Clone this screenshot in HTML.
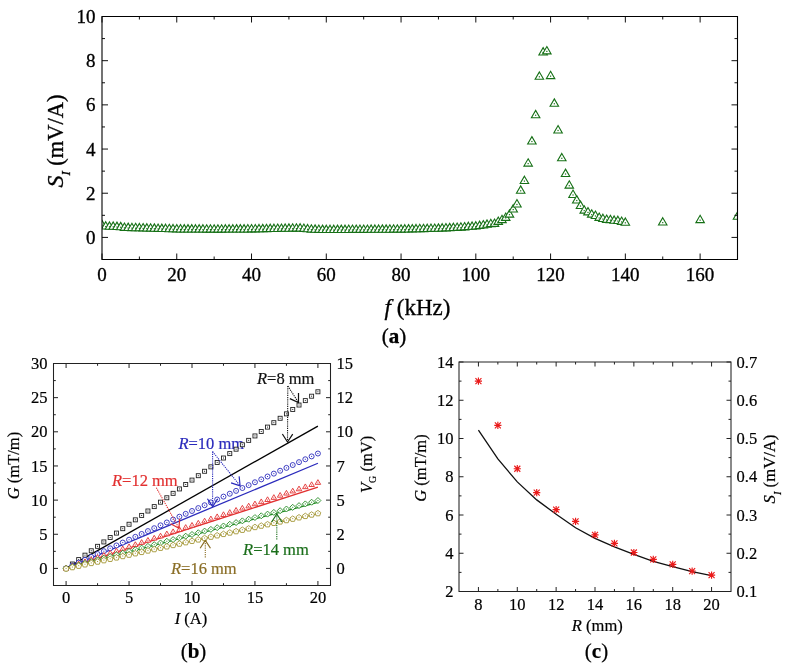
<!DOCTYPE html>
<html><head><meta charset="utf-8"><title>Figure</title>
<style>
html,body{margin:0;padding:0;background:#fff;}
body{width:791px;height:667px;overflow:hidden;}
svg{display:block;-webkit-font-smoothing:antialiased;will-change:transform;}
text{stroke:#000;stroke-width:0.2px;}
.big text{stroke-width:0.32px;}
</style></head><body>
<svg width="791" height="667" viewBox="0 0 791 667">
<rect width="791" height="667" fill="#fff"/>
<g font-family='"Liberation Serif", serif'>
<g class="big">
<defs><clipPath id="ca"><rect x="102" y="16.5" width="636" height="243"/></clipPath>
<symbol id="tri" overflow="visible"><path d="M0,-4.9 L4.25,2.45 L-4.25,2.45 Z" fill="#fff" stroke="#167016" stroke-width="1.1"/><rect x="-0.6" y="-0.6" width="1.2" height="1.2" fill="#167016"/></symbol></defs>
<g clip-path="url(#ca)">
<use href="#tri" x="102" y="225.26"/>
<use href="#tri" x="105.74" y="226.58"/>
<use href="#tri" x="109.48" y="226.81"/>
<use href="#tri" x="113.21" y="226.81"/>
<use href="#tri" x="116.95" y="227.03"/>
<use href="#tri" x="120.69" y="227.25"/>
<use href="#tri" x="124.43" y="227.91"/>
<use href="#tri" x="128.17" y="228.02"/>
<use href="#tri" x="131.91" y="228.13"/>
<use href="#tri" x="135.64" y="228.24"/>
<use href="#tri" x="139.38" y="228.35"/>
<use href="#tri" x="143.12" y="228.46"/>
<use href="#tri" x="146.86" y="228.57"/>
<use href="#tri" x="150.6" y="228.68"/>
<use href="#tri" x="154.34" y="228.79"/>
<use href="#tri" x="158.07" y="228.9"/>
<use href="#tri" x="161.81" y="229.01"/>
<use href="#tri" x="165.55" y="229.12"/>
<use href="#tri" x="169.29" y="229.24"/>
<use href="#tri" x="173.03" y="229.35"/>
<use href="#tri" x="176.76" y="229.46"/>
<use href="#tri" x="180.5" y="229.48"/>
<use href="#tri" x="184.24" y="229.5"/>
<use href="#tri" x="187.98" y="229.52"/>
<use href="#tri" x="191.72" y="229.54"/>
<use href="#tri" x="195.46" y="229.57"/>
<use href="#tri" x="199.19" y="229.59"/>
<use href="#tri" x="202.93" y="229.61"/>
<use href="#tri" x="206.67" y="229.63"/>
<use href="#tri" x="210.41" y="229.66"/>
<use href="#tri" x="214.15" y="229.68"/>
<use href="#tri" x="217.89" y="229.66"/>
<use href="#tri" x="221.62" y="229.63"/>
<use href="#tri" x="225.36" y="229.61"/>
<use href="#tri" x="229.1" y="229.59"/>
<use href="#tri" x="232.84" y="229.57"/>
<use href="#tri" x="236.58" y="229.54"/>
<use href="#tri" x="240.31" y="229.52"/>
<use href="#tri" x="244.05" y="229.5"/>
<use href="#tri" x="247.79" y="229.48"/>
<use href="#tri" x="251.53" y="229.46"/>
<use href="#tri" x="255.27" y="229.39"/>
<use href="#tri" x="259.01" y="229.32"/>
<use href="#tri" x="262.74" y="229.26"/>
<use href="#tri" x="266.48" y="229.19"/>
<use href="#tri" x="270.22" y="229.12"/>
<use href="#tri" x="273.96" y="229.06"/>
<use href="#tri" x="277.7" y="228.99"/>
<use href="#tri" x="281.44" y="228.93"/>
<use href="#tri" x="285.17" y="228.86"/>
<use href="#tri" x="288.91" y="228.79"/>
<use href="#tri" x="292.65" y="228.72"/>
<use href="#tri" x="296.39" y="228.65"/>
<use href="#tri" x="300.13" y="228.57"/>
<use href="#tri" x="303.86" y="228.94"/>
<use href="#tri" x="307.6" y="229.31"/>
<use href="#tri" x="311.34" y="229.68"/>
<use href="#tri" x="315.08" y="229.79"/>
<use href="#tri" x="318.82" y="229.9"/>
<use href="#tri" x="322.56" y="230.01"/>
<use href="#tri" x="326.29" y="230.12"/>
<use href="#tri" x="330.03" y="230.1"/>
<use href="#tri" x="333.77" y="230.07"/>
<use href="#tri" x="337.51" y="230.05"/>
<use href="#tri" x="341.25" y="230.03"/>
<use href="#tri" x="344.99" y="230.01"/>
<use href="#tri" x="348.72" y="229.99"/>
<use href="#tri" x="352.46" y="229.96"/>
<use href="#tri" x="356.2" y="229.94"/>
<use href="#tri" x="359.94" y="229.92"/>
<use href="#tri" x="363.68" y="229.9"/>
<use href="#tri" x="367.41" y="229.88"/>
<use href="#tri" x="371.15" y="229.85"/>
<use href="#tri" x="374.89" y="229.83"/>
<use href="#tri" x="378.63" y="229.81"/>
<use href="#tri" x="382.37" y="229.79"/>
<use href="#tri" x="386.11" y="229.77"/>
<use href="#tri" x="389.84" y="229.74"/>
<use href="#tri" x="393.58" y="229.72"/>
<use href="#tri" x="397.32" y="229.7"/>
<use href="#tri" x="401.06" y="229.68"/>
<use href="#tri" x="404.8" y="229.59"/>
<use href="#tri" x="408.54" y="229.5"/>
<use href="#tri" x="412.27" y="229.41"/>
<use href="#tri" x="416.01" y="229.32"/>
<use href="#tri" x="419.75" y="229.24"/>
<use href="#tri" x="423.49" y="229.15"/>
<use href="#tri" x="427.23" y="229.06"/>
<use href="#tri" x="430.96" y="228.97"/>
<use href="#tri" x="434.7" y="228.88"/>
<use href="#tri" x="438.44" y="228.79"/>
<use href="#tri" x="442.18" y="228.62"/>
<use href="#tri" x="445.92" y="228.44"/>
<use href="#tri" x="449.66" y="228.26"/>
<use href="#tri" x="453.39" y="228.09"/>
<use href="#tri" x="457.13" y="227.91"/>
<use href="#tri" x="460.87" y="227.64"/>
<use href="#tri" x="464.61" y="227.38"/>
<use href="#tri" x="468.35" y="227.11"/>
<use href="#tri" x="472.09" y="226.85"/>
<use href="#tri" x="475.82" y="226.58"/>
<use href="#tri" x="479.56" y="226.03"/>
<use href="#tri" x="483.3" y="225.48"/>
<use href="#tri" x="487.04" y="224.82"/>
<use href="#tri" x="490.78" y="224.15"/>
<use href="#tri" x="494.51" y="223.93"/>
<use href="#tri" x="498.25" y="221.95"/>
<use href="#tri" x="501.99" y="220.18"/>
<use href="#tri" x="505.73" y="217.97"/>
<use href="#tri" x="509.47" y="214.66"/>
<use href="#tri" x="513.21" y="209.57"/>
<use href="#tri" x="516.94" y="204.49"/>
<use href="#tri" x="520.68" y="190.8"/>
<use href="#tri" x="524.42" y="181.08"/>
<use href="#tri" x="528.16" y="163.63"/>
<use href="#tri" x="531.9" y="141.53"/>
<use href="#tri" x="535.64" y="115.25"/>
<use href="#tri" x="539.37" y="76.81"/>
<use href="#tri" x="543.11" y="52.51"/>
<use href="#tri" x="546.85" y="51.4"/>
<use href="#tri" x="550.59" y="76.15"/>
<use href="#tri" x="554.33" y="103.76"/>
<use href="#tri" x="558.06" y="130.49"/>
<use href="#tri" x="561.8" y="158.32"/>
<use href="#tri" x="565.54" y="174.01"/>
<use href="#tri" x="569.28" y="185.72"/>
<use href="#tri" x="573.02" y="194.99"/>
<use href="#tri" x="576.76" y="200.52"/>
<use href="#tri" x="580.49" y="206.04"/>
<use href="#tri" x="584.23" y="210.68"/>
<use href="#tri" x="587.97" y="212.45"/>
<use href="#tri" x="591.71" y="214.66"/>
<use href="#tri" x="595.45" y="215.98"/>
<use href="#tri" x="599.19" y="217.97"/>
<use href="#tri" x="602.92" y="219.07"/>
<use href="#tri" x="606.66" y="219.96"/>
<use href="#tri" x="610.4" y="220.18"/>
<use href="#tri" x="614.14" y="220.84"/>
<use href="#tri" x="617.88" y="221.06"/>
<use href="#tri" x="621.61" y="221.95"/>
<use href="#tri" x="625.35" y="222.83"/>
<use href="#tri" x="662.74" y="222.61"/>
<use href="#tri" x="700.12" y="220.18"/>
<use href="#tri" x="737.5" y="216.86"/>
</g>
<path d="M102,259.5h3M737.5,259.5h-3M102,237.41h6M737.5,237.41h-6M102,215.32h3M737.5,215.32h-3M102,193.23h6M737.5,193.23h-6M102,171.14h3M737.5,171.14h-3M102,149.05h6M737.5,149.05h-6M102,126.95h3M737.5,126.95h-3M102,104.86h6M737.5,104.86h-6M102,82.77h3M737.5,82.77h-3M102,60.68h6M737.5,60.68h-6M102,38.59h3M737.5,38.59h-3M102,16.5h6M737.5,16.5h-6M102,16.5v6M102,259.5v-6M139.38,16.5v3M139.38,259.5v-3M176.76,16.5v6M176.76,259.5v-6M214.15,16.5v3M214.15,259.5v-3M251.53,16.5v6M251.53,259.5v-6M288.91,16.5v3M288.91,259.5v-3M326.29,16.5v6M326.29,259.5v-6M363.68,16.5v3M363.68,259.5v-3M401.06,16.5v6M401.06,259.5v-6M438.44,16.5v3M438.44,259.5v-3M475.82,16.5v6M475.82,259.5v-6M513.21,16.5v3M513.21,259.5v-3M550.59,16.5v6M550.59,259.5v-6M587.97,16.5v3M587.97,259.5v-3M625.35,16.5v6M625.35,259.5v-6M662.74,16.5v3M662.74,259.5v-3M700.12,16.5v6M700.12,259.5v-6M737.5,16.5v3M737.5,259.5v-3" stroke="#111" stroke-width="1" fill="none"/>
<path d="M102,16.5H737.5V259.5H102Z" stroke="#000" stroke-width="1.1" fill="none"/>
<text x="95.5" y="243.91" font-size="19" text-anchor="end">0</text>
<text x="95.5" y="199.73" font-size="19" text-anchor="end">2</text>
<text x="95.5" y="155.55" font-size="19" text-anchor="end">4</text>
<text x="95.5" y="111.36" font-size="19" text-anchor="end">6</text>
<text x="95.5" y="67.18" font-size="19" text-anchor="end">8</text>
<text x="95.5" y="23" font-size="19" text-anchor="end">10</text>
<text x="102" y="281" font-size="19" text-anchor="middle">0</text>
<text x="176.76" y="281" font-size="19" text-anchor="middle">20</text>
<text x="251.53" y="281" font-size="19" text-anchor="middle">40</text>
<text x="326.29" y="281" font-size="19" text-anchor="middle">60</text>
<text x="401.06" y="281" font-size="19" text-anchor="middle">80</text>
<text x="475.82" y="281" font-size="19" text-anchor="middle">100</text>
<text x="550.59" y="281" font-size="19" text-anchor="middle">120</text>
<text x="625.35" y="281" font-size="19" text-anchor="middle">140</text>
<text x="700.12" y="281" font-size="19" text-anchor="middle">160</text>
<text transform="translate(62.8,141) rotate(-90)" font-size="22.5" text-anchor="middle"><tspan font-style="italic" font-size="24">S</tspan><tspan font-style="italic" font-size="13" dy="7.5">I</tspan><tspan dy="-7.5"> (mV/A)</tspan></text>
<text x="417.5" y="315" font-size="23" text-anchor="middle"><tspan font-style="italic">f</tspan> (kHz)</text>
<text x="394" y="343" font-size="21" text-anchor="middle">(<tspan font-weight="bold">a</tspan>)</text>
</g>
<defs>
<symbol id="m_sq" overflow="visible"><rect x="-2.4" y="-2.4" width="4.8" height="4.8" fill="none" stroke-width="1.1"/><rect x="-0.5" y="-0.5" width="1" height="1" stroke="none"/></symbol>
</defs>
<text x="257" y="384" font-size="16.5" style="fill:#111;stroke:#111"><tspan font-style="italic">R</tspan>=8 mm</text>
<text x="178.4" y="448.6" font-size="16.5" style="fill:#2a2abc;stroke:#2a2abc"><tspan font-style="italic">R</tspan>=10 mm</text>
<text x="112" y="486.2" font-size="16.5" style="fill:#e23030;stroke:#e23030"><tspan font-style="italic">R</tspan>=12 mm</text>
<text x="243.1" y="555.1" font-size="16.5" style="fill:#1a6e1a;stroke:#1a6e1a"><tspan font-style="italic">R</tspan>=14 mm</text>
<text x="171" y="573.7" font-size="16.5" style="fill:#8a6e26;stroke:#8a6e26"><tspan font-style="italic">R</tspan>=16 mm</text>
<line x1="66.09" y1="568.42" x2="317.91" y2="426.07" stroke="#000" stroke-width="1.3"/>
<line x1="66.09" y1="568.42" x2="317.91" y2="463.23" stroke="#2a2abc" stroke-width="1.3"/>
<line x1="66.09" y1="568.42" x2="317.91" y2="487.14" stroke="#e23030" stroke-width="1.3"/>
<line x1="66.09" y1="568.42" x2="317.91" y2="502.44" stroke="#208a20" stroke-width="1.3"/>
<rect x="64.09" y="566.42" width="4" height="4" fill="#fff" stroke="#222" stroke-width="0.9"/><rect x="65.59" y="567.92" width="1" height="1" fill="#222"/>
<rect x="70.39" y="562.01" width="4" height="4" fill="#fff" stroke="#222" stroke-width="0.9"/><rect x="71.89" y="563.51" width="1" height="1" fill="#222"/>
<rect x="76.68" y="557.59" width="4" height="4" fill="#fff" stroke="#222" stroke-width="0.9"/><rect x="78.18" y="559.09" width="1" height="1" fill="#222"/>
<rect x="82.98" y="553.17" width="4" height="4" fill="#fff" stroke="#222" stroke-width="0.9"/><rect x="84.48" y="554.67" width="1" height="1" fill="#222"/>
<rect x="89.27" y="548.76" width="4" height="4" fill="#fff" stroke="#222" stroke-width="0.9"/><rect x="90.77" y="550.26" width="1" height="1" fill="#222"/>
<rect x="95.57" y="544.34" width="4" height="4" fill="#fff" stroke="#222" stroke-width="0.9"/><rect x="97.07" y="545.84" width="1" height="1" fill="#222"/>
<rect x="101.86" y="539.93" width="4" height="4" fill="#fff" stroke="#222" stroke-width="0.9"/><rect x="103.36" y="541.43" width="1" height="1" fill="#222"/>
<rect x="108.16" y="535.51" width="4" height="4" fill="#fff" stroke="#222" stroke-width="0.9"/><rect x="109.66" y="537.01" width="1" height="1" fill="#222"/>
<rect x="114.45" y="531.09" width="4" height="4" fill="#fff" stroke="#222" stroke-width="0.9"/><rect x="115.95" y="532.59" width="1" height="1" fill="#222"/>
<rect x="120.75" y="526.68" width="4" height="4" fill="#fff" stroke="#222" stroke-width="0.9"/><rect x="122.25" y="528.18" width="1" height="1" fill="#222"/>
<rect x="127.05" y="522.26" width="4" height="4" fill="#fff" stroke="#222" stroke-width="0.9"/><rect x="128.55" y="523.76" width="1" height="1" fill="#222"/>
<rect x="133.34" y="517.85" width="4" height="4" fill="#fff" stroke="#222" stroke-width="0.9"/><rect x="134.84" y="519.35" width="1" height="1" fill="#222"/>
<rect x="139.64" y="513.43" width="4" height="4" fill="#fff" stroke="#222" stroke-width="0.9"/><rect x="141.14" y="514.93" width="1" height="1" fill="#222"/>
<rect x="145.93" y="509.01" width="4" height="4" fill="#fff" stroke="#222" stroke-width="0.9"/><rect x="147.43" y="510.51" width="1" height="1" fill="#222"/>
<rect x="152.23" y="504.6" width="4" height="4" fill="#fff" stroke="#222" stroke-width="0.9"/><rect x="153.73" y="506.1" width="1" height="1" fill="#222"/>
<rect x="158.52" y="500.18" width="4" height="4" fill="#fff" stroke="#222" stroke-width="0.9"/><rect x="160.02" y="501.68" width="1" height="1" fill="#222"/>
<rect x="164.82" y="495.77" width="4" height="4" fill="#fff" stroke="#222" stroke-width="0.9"/><rect x="166.32" y="497.27" width="1" height="1" fill="#222"/>
<rect x="171.11" y="491.35" width="4" height="4" fill="#fff" stroke="#222" stroke-width="0.9"/><rect x="172.61" y="492.85" width="1" height="1" fill="#222"/>
<rect x="177.41" y="486.93" width="4" height="4" fill="#fff" stroke="#222" stroke-width="0.9"/><rect x="178.91" y="488.43" width="1" height="1" fill="#222"/>
<rect x="183.7" y="482.52" width="4" height="4" fill="#fff" stroke="#222" stroke-width="0.9"/><rect x="185.2" y="484.02" width="1" height="1" fill="#222"/>
<rect x="190" y="478.1" width="4" height="4" fill="#fff" stroke="#222" stroke-width="0.9"/><rect x="191.5" y="479.6" width="1" height="1" fill="#222"/>
<rect x="196.3" y="473.69" width="4" height="4" fill="#fff" stroke="#222" stroke-width="0.9"/><rect x="197.8" y="475.19" width="1" height="1" fill="#222"/>
<rect x="202.59" y="469.27" width="4" height="4" fill="#fff" stroke="#222" stroke-width="0.9"/><rect x="204.09" y="470.77" width="1" height="1" fill="#222"/>
<rect x="208.89" y="464.85" width="4" height="4" fill="#fff" stroke="#222" stroke-width="0.9"/><rect x="210.39" y="466.35" width="1" height="1" fill="#222"/>
<rect x="215.18" y="460.44" width="4" height="4" fill="#fff" stroke="#222" stroke-width="0.9"/><rect x="216.68" y="461.94" width="1" height="1" fill="#222"/>
<rect x="221.48" y="456.02" width="4" height="4" fill="#fff" stroke="#222" stroke-width="0.9"/><rect x="222.98" y="457.52" width="1" height="1" fill="#222"/>
<rect x="227.77" y="451.6" width="4" height="4" fill="#fff" stroke="#222" stroke-width="0.9"/><rect x="229.27" y="453.1" width="1" height="1" fill="#222"/>
<rect x="234.07" y="447.19" width="4" height="4" fill="#fff" stroke="#222" stroke-width="0.9"/><rect x="235.57" y="448.69" width="1" height="1" fill="#222"/>
<rect x="240.36" y="442.77" width="4" height="4" fill="#fff" stroke="#222" stroke-width="0.9"/><rect x="241.86" y="444.27" width="1" height="1" fill="#222"/>
<rect x="246.66" y="438.36" width="4" height="4" fill="#fff" stroke="#222" stroke-width="0.9"/><rect x="248.16" y="439.86" width="1" height="1" fill="#222"/>
<rect x="252.95" y="433.94" width="4" height="4" fill="#fff" stroke="#222" stroke-width="0.9"/><rect x="254.45" y="435.44" width="1" height="1" fill="#222"/>
<rect x="259.25" y="429.52" width="4" height="4" fill="#fff" stroke="#222" stroke-width="0.9"/><rect x="260.75" y="431.02" width="1" height="1" fill="#222"/>
<rect x="265.55" y="425.11" width="4" height="4" fill="#fff" stroke="#222" stroke-width="0.9"/><rect x="267.05" y="426.61" width="1" height="1" fill="#222"/>
<rect x="271.84" y="420.69" width="4" height="4" fill="#fff" stroke="#222" stroke-width="0.9"/><rect x="273.34" y="422.19" width="1" height="1" fill="#222"/>
<rect x="278.14" y="416.28" width="4" height="4" fill="#fff" stroke="#222" stroke-width="0.9"/><rect x="279.64" y="417.78" width="1" height="1" fill="#222"/>
<rect x="284.43" y="411.86" width="4" height="4" fill="#fff" stroke="#222" stroke-width="0.9"/><rect x="285.93" y="413.36" width="1" height="1" fill="#222"/>
<rect x="290.73" y="407.44" width="4" height="4" fill="#fff" stroke="#222" stroke-width="0.9"/><rect x="292.23" y="408.94" width="1" height="1" fill="#222"/>
<rect x="297.02" y="403.03" width="4" height="4" fill="#fff" stroke="#222" stroke-width="0.9"/><rect x="298.52" y="404.53" width="1" height="1" fill="#222"/>
<rect x="303.32" y="398.61" width="4" height="4" fill="#fff" stroke="#222" stroke-width="0.9"/><rect x="304.82" y="400.11" width="1" height="1" fill="#222"/>
<rect x="309.61" y="394.2" width="4" height="4" fill="#fff" stroke="#222" stroke-width="0.9"/><rect x="311.11" y="395.7" width="1" height="1" fill="#222"/>
<rect x="315.91" y="389.78" width="4" height="4" fill="#fff" stroke="#222" stroke-width="0.9"/><rect x="317.41" y="391.28" width="1" height="1" fill="#222"/>
<circle cx="66.09" cy="568.42" r="2.5" fill="#fff" stroke="#2a2abc" stroke-width="0.9"/><rect x="65.59" y="567.92" width="1" height="1" fill="#2a2abc"/>
<circle cx="72.39" cy="565.55" r="2.5" fill="#fff" stroke="#2a2abc" stroke-width="0.9"/><rect x="71.89" y="565.05" width="1" height="1" fill="#2a2abc"/>
<circle cx="78.68" cy="562.68" r="2.5" fill="#fff" stroke="#2a2abc" stroke-width="0.9"/><rect x="78.18" y="562.18" width="1" height="1" fill="#2a2abc"/>
<circle cx="84.98" cy="559.81" r="2.5" fill="#fff" stroke="#2a2abc" stroke-width="0.9"/><rect x="84.48" y="559.31" width="1" height="1" fill="#2a2abc"/>
<circle cx="91.27" cy="556.93" r="2.5" fill="#fff" stroke="#2a2abc" stroke-width="0.9"/><rect x="90.77" y="556.43" width="1" height="1" fill="#2a2abc"/>
<circle cx="97.57" cy="554.06" r="2.5" fill="#fff" stroke="#2a2abc" stroke-width="0.9"/><rect x="97.07" y="553.56" width="1" height="1" fill="#2a2abc"/>
<circle cx="103.86" cy="551.19" r="2.5" fill="#fff" stroke="#2a2abc" stroke-width="0.9"/><rect x="103.36" y="550.69" width="1" height="1" fill="#2a2abc"/>
<circle cx="110.16" cy="548.32" r="2.5" fill="#fff" stroke="#2a2abc" stroke-width="0.9"/><rect x="109.66" y="547.82" width="1" height="1" fill="#2a2abc"/>
<circle cx="116.45" cy="545.44" r="2.5" fill="#fff" stroke="#2a2abc" stroke-width="0.9"/><rect x="115.95" y="544.94" width="1" height="1" fill="#2a2abc"/>
<circle cx="122.75" cy="542.57" r="2.5" fill="#fff" stroke="#2a2abc" stroke-width="0.9"/><rect x="122.25" y="542.07" width="1" height="1" fill="#2a2abc"/>
<circle cx="129.05" cy="539.7" r="2.5" fill="#fff" stroke="#2a2abc" stroke-width="0.9"/><rect x="128.55" y="539.2" width="1" height="1" fill="#2a2abc"/>
<circle cx="135.34" cy="536.83" r="2.5" fill="#fff" stroke="#2a2abc" stroke-width="0.9"/><rect x="134.84" y="536.33" width="1" height="1" fill="#2a2abc"/>
<circle cx="141.64" cy="533.96" r="2.5" fill="#fff" stroke="#2a2abc" stroke-width="0.9"/><rect x="141.14" y="533.46" width="1" height="1" fill="#2a2abc"/>
<circle cx="147.93" cy="531.08" r="2.5" fill="#fff" stroke="#2a2abc" stroke-width="0.9"/><rect x="147.43" y="530.58" width="1" height="1" fill="#2a2abc"/>
<circle cx="154.23" cy="528.21" r="2.5" fill="#fff" stroke="#2a2abc" stroke-width="0.9"/><rect x="153.73" y="527.71" width="1" height="1" fill="#2a2abc"/>
<circle cx="160.52" cy="525.34" r="2.5" fill="#fff" stroke="#2a2abc" stroke-width="0.9"/><rect x="160.02" y="524.84" width="1" height="1" fill="#2a2abc"/>
<circle cx="166.82" cy="522.47" r="2.5" fill="#fff" stroke="#2a2abc" stroke-width="0.9"/><rect x="166.32" y="521.97" width="1" height="1" fill="#2a2abc"/>
<circle cx="173.11" cy="519.59" r="2.5" fill="#fff" stroke="#2a2abc" stroke-width="0.9"/><rect x="172.61" y="519.09" width="1" height="1" fill="#2a2abc"/>
<circle cx="179.41" cy="516.72" r="2.5" fill="#fff" stroke="#2a2abc" stroke-width="0.9"/><rect x="178.91" y="516.22" width="1" height="1" fill="#2a2abc"/>
<circle cx="185.7" cy="513.85" r="2.5" fill="#fff" stroke="#2a2abc" stroke-width="0.9"/><rect x="185.2" y="513.35" width="1" height="1" fill="#2a2abc"/>
<circle cx="192" cy="510.98" r="2.5" fill="#fff" stroke="#2a2abc" stroke-width="0.9"/><rect x="191.5" y="510.48" width="1" height="1" fill="#2a2abc"/>
<circle cx="198.3" cy="508.1" r="2.5" fill="#fff" stroke="#2a2abc" stroke-width="0.9"/><rect x="197.8" y="507.6" width="1" height="1" fill="#2a2abc"/>
<circle cx="204.59" cy="505.23" r="2.5" fill="#fff" stroke="#2a2abc" stroke-width="0.9"/><rect x="204.09" y="504.73" width="1" height="1" fill="#2a2abc"/>
<circle cx="210.89" cy="502.36" r="2.5" fill="#fff" stroke="#2a2abc" stroke-width="0.9"/><rect x="210.39" y="501.86" width="1" height="1" fill="#2a2abc"/>
<circle cx="217.18" cy="499.49" r="2.5" fill="#fff" stroke="#2a2abc" stroke-width="0.9"/><rect x="216.68" y="498.99" width="1" height="1" fill="#2a2abc"/>
<circle cx="223.48" cy="496.61" r="2.5" fill="#fff" stroke="#2a2abc" stroke-width="0.9"/><rect x="222.98" y="496.11" width="1" height="1" fill="#2a2abc"/>
<circle cx="229.77" cy="493.74" r="2.5" fill="#fff" stroke="#2a2abc" stroke-width="0.9"/><rect x="229.27" y="493.24" width="1" height="1" fill="#2a2abc"/>
<circle cx="236.07" cy="490.87" r="2.5" fill="#fff" stroke="#2a2abc" stroke-width="0.9"/><rect x="235.57" y="490.37" width="1" height="1" fill="#2a2abc"/>
<circle cx="242.36" cy="488" r="2.5" fill="#fff" stroke="#2a2abc" stroke-width="0.9"/><rect x="241.86" y="487.5" width="1" height="1" fill="#2a2abc"/>
<circle cx="248.66" cy="485.13" r="2.5" fill="#fff" stroke="#2a2abc" stroke-width="0.9"/><rect x="248.16" y="484.63" width="1" height="1" fill="#2a2abc"/>
<circle cx="254.95" cy="482.25" r="2.5" fill="#fff" stroke="#2a2abc" stroke-width="0.9"/><rect x="254.45" y="481.75" width="1" height="1" fill="#2a2abc"/>
<circle cx="261.25" cy="479.38" r="2.5" fill="#fff" stroke="#2a2abc" stroke-width="0.9"/><rect x="260.75" y="478.88" width="1" height="1" fill="#2a2abc"/>
<circle cx="267.55" cy="476.51" r="2.5" fill="#fff" stroke="#2a2abc" stroke-width="0.9"/><rect x="267.05" y="476.01" width="1" height="1" fill="#2a2abc"/>
<circle cx="273.84" cy="473.64" r="2.5" fill="#fff" stroke="#2a2abc" stroke-width="0.9"/><rect x="273.34" y="473.14" width="1" height="1" fill="#2a2abc"/>
<circle cx="280.14" cy="470.76" r="2.5" fill="#fff" stroke="#2a2abc" stroke-width="0.9"/><rect x="279.64" y="470.26" width="1" height="1" fill="#2a2abc"/>
<circle cx="286.43" cy="467.89" r="2.5" fill="#fff" stroke="#2a2abc" stroke-width="0.9"/><rect x="285.93" y="467.39" width="1" height="1" fill="#2a2abc"/>
<circle cx="292.73" cy="465.02" r="2.5" fill="#fff" stroke="#2a2abc" stroke-width="0.9"/><rect x="292.23" y="464.52" width="1" height="1" fill="#2a2abc"/>
<circle cx="299.02" cy="462.15" r="2.5" fill="#fff" stroke="#2a2abc" stroke-width="0.9"/><rect x="298.52" y="461.65" width="1" height="1" fill="#2a2abc"/>
<circle cx="305.32" cy="459.27" r="2.5" fill="#fff" stroke="#2a2abc" stroke-width="0.9"/><rect x="304.82" y="458.77" width="1" height="1" fill="#2a2abc"/>
<circle cx="311.61" cy="456.4" r="2.5" fill="#fff" stroke="#2a2abc" stroke-width="0.9"/><rect x="311.11" y="455.9" width="1" height="1" fill="#2a2abc"/>
<circle cx="317.91" cy="453.53" r="2.5" fill="#fff" stroke="#2a2abc" stroke-width="0.9"/><rect x="317.41" y="453.03" width="1" height="1" fill="#2a2abc"/>
<path d="M66.09,565.32l2.75,4.7h-5.5z" fill="#fff" stroke="#e23030" stroke-width="0.9"/><rect x="65.59" y="568.12" width="1" height="1" fill="#e23030"/>
<path d="M72.39,563.18l2.75,4.7h-5.5z" fill="#fff" stroke="#e23030" stroke-width="0.9"/><rect x="71.89" y="565.98" width="1" height="1" fill="#e23030"/>
<path d="M78.68,561.04l2.75,4.7h-5.5z" fill="#fff" stroke="#e23030" stroke-width="0.9"/><rect x="78.18" y="563.84" width="1" height="1" fill="#e23030"/>
<path d="M84.98,558.9l2.75,4.7h-5.5z" fill="#fff" stroke="#e23030" stroke-width="0.9"/><rect x="84.48" y="561.7" width="1" height="1" fill="#e23030"/>
<path d="M91.27,556.76l2.75,4.7h-5.5z" fill="#fff" stroke="#e23030" stroke-width="0.9"/><rect x="90.77" y="559.56" width="1" height="1" fill="#e23030"/>
<path d="M97.57,554.62l2.75,4.7h-5.5z" fill="#fff" stroke="#e23030" stroke-width="0.9"/><rect x="97.07" y="557.42" width="1" height="1" fill="#e23030"/>
<path d="M103.86,552.47l2.75,4.7h-5.5z" fill="#fff" stroke="#e23030" stroke-width="0.9"/><rect x="103.36" y="555.27" width="1" height="1" fill="#e23030"/>
<path d="M110.16,550.33l2.75,4.7h-5.5z" fill="#fff" stroke="#e23030" stroke-width="0.9"/><rect x="109.66" y="553.13" width="1" height="1" fill="#e23030"/>
<path d="M116.45,548.19l2.75,4.7h-5.5z" fill="#fff" stroke="#e23030" stroke-width="0.9"/><rect x="115.95" y="550.99" width="1" height="1" fill="#e23030"/>
<path d="M122.75,546.05l2.75,4.7h-5.5z" fill="#fff" stroke="#e23030" stroke-width="0.9"/><rect x="122.25" y="548.85" width="1" height="1" fill="#e23030"/>
<path d="M129.05,543.91l2.75,4.7h-5.5z" fill="#fff" stroke="#e23030" stroke-width="0.9"/><rect x="128.55" y="546.71" width="1" height="1" fill="#e23030"/>
<path d="M135.34,541.77l2.75,4.7h-5.5z" fill="#fff" stroke="#e23030" stroke-width="0.9"/><rect x="134.84" y="544.57" width="1" height="1" fill="#e23030"/>
<path d="M141.64,539.63l2.75,4.7h-5.5z" fill="#fff" stroke="#e23030" stroke-width="0.9"/><rect x="141.14" y="542.43" width="1" height="1" fill="#e23030"/>
<path d="M147.93,537.48l2.75,4.7h-5.5z" fill="#fff" stroke="#e23030" stroke-width="0.9"/><rect x="147.43" y="540.28" width="1" height="1" fill="#e23030"/>
<path d="M154.23,535.34l2.75,4.7h-5.5z" fill="#fff" stroke="#e23030" stroke-width="0.9"/><rect x="153.73" y="538.14" width="1" height="1" fill="#e23030"/>
<path d="M160.52,533.2l2.75,4.7h-5.5z" fill="#fff" stroke="#e23030" stroke-width="0.9"/><rect x="160.02" y="536" width="1" height="1" fill="#e23030"/>
<path d="M166.82,531.06l2.75,4.7h-5.5z" fill="#fff" stroke="#e23030" stroke-width="0.9"/><rect x="166.32" y="533.86" width="1" height="1" fill="#e23030"/>
<path d="M173.11,528.92l2.75,4.7h-5.5z" fill="#fff" stroke="#e23030" stroke-width="0.9"/><rect x="172.61" y="531.72" width="1" height="1" fill="#e23030"/>
<path d="M179.41,526.78l2.75,4.7h-5.5z" fill="#fff" stroke="#e23030" stroke-width="0.9"/><rect x="178.91" y="529.58" width="1" height="1" fill="#e23030"/>
<path d="M185.7,524.64l2.75,4.7h-5.5z" fill="#fff" stroke="#e23030" stroke-width="0.9"/><rect x="185.2" y="527.44" width="1" height="1" fill="#e23030"/>
<path d="M192,522.49l2.75,4.7h-5.5z" fill="#fff" stroke="#e23030" stroke-width="0.9"/><rect x="191.5" y="525.29" width="1" height="1" fill="#e23030"/>
<path d="M198.3,520.35l2.75,4.7h-5.5z" fill="#fff" stroke="#e23030" stroke-width="0.9"/><rect x="197.8" y="523.15" width="1" height="1" fill="#e23030"/>
<path d="M204.59,518.21l2.75,4.7h-5.5z" fill="#fff" stroke="#e23030" stroke-width="0.9"/><rect x="204.09" y="521.01" width="1" height="1" fill="#e23030"/>
<path d="M210.89,516.07l2.75,4.7h-5.5z" fill="#fff" stroke="#e23030" stroke-width="0.9"/><rect x="210.39" y="518.87" width="1" height="1" fill="#e23030"/>
<path d="M217.18,513.93l2.75,4.7h-5.5z" fill="#fff" stroke="#e23030" stroke-width="0.9"/><rect x="216.68" y="516.73" width="1" height="1" fill="#e23030"/>
<path d="M223.48,511.79l2.75,4.7h-5.5z" fill="#fff" stroke="#e23030" stroke-width="0.9"/><rect x="222.98" y="514.59" width="1" height="1" fill="#e23030"/>
<path d="M229.77,509.65l2.75,4.7h-5.5z" fill="#fff" stroke="#e23030" stroke-width="0.9"/><rect x="229.27" y="512.45" width="1" height="1" fill="#e23030"/>
<path d="M236.07,507.5l2.75,4.7h-5.5z" fill="#fff" stroke="#e23030" stroke-width="0.9"/><rect x="235.57" y="510.3" width="1" height="1" fill="#e23030"/>
<path d="M242.36,505.36l2.75,4.7h-5.5z" fill="#fff" stroke="#e23030" stroke-width="0.9"/><rect x="241.86" y="508.16" width="1" height="1" fill="#e23030"/>
<path d="M248.66,503.22l2.75,4.7h-5.5z" fill="#fff" stroke="#e23030" stroke-width="0.9"/><rect x="248.16" y="506.02" width="1" height="1" fill="#e23030"/>
<path d="M254.95,501.08l2.75,4.7h-5.5z" fill="#fff" stroke="#e23030" stroke-width="0.9"/><rect x="254.45" y="503.88" width="1" height="1" fill="#e23030"/>
<path d="M261.25,498.94l2.75,4.7h-5.5z" fill="#fff" stroke="#e23030" stroke-width="0.9"/><rect x="260.75" y="501.74" width="1" height="1" fill="#e23030"/>
<path d="M267.55,496.8l2.75,4.7h-5.5z" fill="#fff" stroke="#e23030" stroke-width="0.9"/><rect x="267.05" y="499.6" width="1" height="1" fill="#e23030"/>
<path d="M273.84,494.66l2.75,4.7h-5.5z" fill="#fff" stroke="#e23030" stroke-width="0.9"/><rect x="273.34" y="497.46" width="1" height="1" fill="#e23030"/>
<path d="M280.14,492.51l2.75,4.7h-5.5z" fill="#fff" stroke="#e23030" stroke-width="0.9"/><rect x="279.64" y="495.31" width="1" height="1" fill="#e23030"/>
<path d="M286.43,490.37l2.75,4.7h-5.5z" fill="#fff" stroke="#e23030" stroke-width="0.9"/><rect x="285.93" y="493.17" width="1" height="1" fill="#e23030"/>
<path d="M292.73,488.23l2.75,4.7h-5.5z" fill="#fff" stroke="#e23030" stroke-width="0.9"/><rect x="292.23" y="491.03" width="1" height="1" fill="#e23030"/>
<path d="M299.02,486.09l2.75,4.7h-5.5z" fill="#fff" stroke="#e23030" stroke-width="0.9"/><rect x="298.52" y="488.89" width="1" height="1" fill="#e23030"/>
<path d="M305.32,483.95l2.75,4.7h-5.5z" fill="#fff" stroke="#e23030" stroke-width="0.9"/><rect x="304.82" y="486.75" width="1" height="1" fill="#e23030"/>
<path d="M311.61,481.81l2.75,4.7h-5.5z" fill="#fff" stroke="#e23030" stroke-width="0.9"/><rect x="311.11" y="484.61" width="1" height="1" fill="#e23030"/>
<path d="M317.91,479.67l2.75,4.7h-5.5z" fill="#fff" stroke="#e23030" stroke-width="0.9"/><rect x="317.41" y="482.47" width="1" height="1" fill="#e23030"/>
<path d="M66.09,565.42l3,3l-3,3l-3,-3z" fill="#fff" stroke="#208a20" stroke-width="0.9"/><rect x="65.59" y="567.92" width="1" height="1" fill="#208a20"/>
<path d="M72.39,563.73l3,3l-3,3l-3,-3z" fill="#fff" stroke="#208a20" stroke-width="0.9"/><rect x="71.89" y="566.23" width="1" height="1" fill="#208a20"/>
<path d="M78.68,562.03l3,3l-3,3l-3,-3z" fill="#fff" stroke="#208a20" stroke-width="0.9"/><rect x="78.18" y="564.53" width="1" height="1" fill="#208a20"/>
<path d="M84.98,560.33l3,3l-3,3l-3,-3z" fill="#fff" stroke="#208a20" stroke-width="0.9"/><rect x="84.48" y="562.83" width="1" height="1" fill="#208a20"/>
<path d="M91.27,558.63l3,3l-3,3l-3,-3z" fill="#fff" stroke="#208a20" stroke-width="0.9"/><rect x="90.77" y="561.13" width="1" height="1" fill="#208a20"/>
<path d="M97.57,556.94l3,3l-3,3l-3,-3z" fill="#fff" stroke="#208a20" stroke-width="0.9"/><rect x="97.07" y="559.44" width="1" height="1" fill="#208a20"/>
<path d="M103.86,555.24l3,3l-3,3l-3,-3z" fill="#fff" stroke="#208a20" stroke-width="0.9"/><rect x="103.36" y="557.74" width="1" height="1" fill="#208a20"/>
<path d="M110.16,553.54l3,3l-3,3l-3,-3z" fill="#fff" stroke="#208a20" stroke-width="0.9"/><rect x="109.66" y="556.04" width="1" height="1" fill="#208a20"/>
<path d="M116.45,551.84l3,3l-3,3l-3,-3z" fill="#fff" stroke="#208a20" stroke-width="0.9"/><rect x="115.95" y="554.34" width="1" height="1" fill="#208a20"/>
<path d="M122.75,550.15l3,3l-3,3l-3,-3z" fill="#fff" stroke="#208a20" stroke-width="0.9"/><rect x="122.25" y="552.65" width="1" height="1" fill="#208a20"/>
<path d="M129.05,548.45l3,3l-3,3l-3,-3z" fill="#fff" stroke="#208a20" stroke-width="0.9"/><rect x="128.55" y="550.95" width="1" height="1" fill="#208a20"/>
<path d="M135.34,546.75l3,3l-3,3l-3,-3z" fill="#fff" stroke="#208a20" stroke-width="0.9"/><rect x="134.84" y="549.25" width="1" height="1" fill="#208a20"/>
<path d="M141.64,545.05l3,3l-3,3l-3,-3z" fill="#fff" stroke="#208a20" stroke-width="0.9"/><rect x="141.14" y="547.55" width="1" height="1" fill="#208a20"/>
<path d="M147.93,543.36l3,3l-3,3l-3,-3z" fill="#fff" stroke="#208a20" stroke-width="0.9"/><rect x="147.43" y="545.86" width="1" height="1" fill="#208a20"/>
<path d="M154.23,541.66l3,3l-3,3l-3,-3z" fill="#fff" stroke="#208a20" stroke-width="0.9"/><rect x="153.73" y="544.16" width="1" height="1" fill="#208a20"/>
<path d="M160.52,539.96l3,3l-3,3l-3,-3z" fill="#fff" stroke="#208a20" stroke-width="0.9"/><rect x="160.02" y="542.46" width="1" height="1" fill="#208a20"/>
<path d="M166.82,538.26l3,3l-3,3l-3,-3z" fill="#fff" stroke="#208a20" stroke-width="0.9"/><rect x="166.32" y="540.76" width="1" height="1" fill="#208a20"/>
<path d="M173.11,536.57l3,3l-3,3l-3,-3z" fill="#fff" stroke="#208a20" stroke-width="0.9"/><rect x="172.61" y="539.07" width="1" height="1" fill="#208a20"/>
<path d="M179.41,534.87l3,3l-3,3l-3,-3z" fill="#fff" stroke="#208a20" stroke-width="0.9"/><rect x="178.91" y="537.37" width="1" height="1" fill="#208a20"/>
<path d="M185.7,533.17l3,3l-3,3l-3,-3z" fill="#fff" stroke="#208a20" stroke-width="0.9"/><rect x="185.2" y="535.67" width="1" height="1" fill="#208a20"/>
<path d="M192,531.47l3,3l-3,3l-3,-3z" fill="#fff" stroke="#208a20" stroke-width="0.9"/><rect x="191.5" y="533.97" width="1" height="1" fill="#208a20"/>
<path d="M198.3,529.78l3,3l-3,3l-3,-3z" fill="#fff" stroke="#208a20" stroke-width="0.9"/><rect x="197.8" y="532.28" width="1" height="1" fill="#208a20"/>
<path d="M204.59,528.08l3,3l-3,3l-3,-3z" fill="#fff" stroke="#208a20" stroke-width="0.9"/><rect x="204.09" y="530.58" width="1" height="1" fill="#208a20"/>
<path d="M210.89,526.38l3,3l-3,3l-3,-3z" fill="#fff" stroke="#208a20" stroke-width="0.9"/><rect x="210.39" y="528.88" width="1" height="1" fill="#208a20"/>
<path d="M217.18,524.68l3,3l-3,3l-3,-3z" fill="#fff" stroke="#208a20" stroke-width="0.9"/><rect x="216.68" y="527.18" width="1" height="1" fill="#208a20"/>
<path d="M223.48,522.99l3,3l-3,3l-3,-3z" fill="#fff" stroke="#208a20" stroke-width="0.9"/><rect x="222.98" y="525.49" width="1" height="1" fill="#208a20"/>
<path d="M229.77,521.29l3,3l-3,3l-3,-3z" fill="#fff" stroke="#208a20" stroke-width="0.9"/><rect x="229.27" y="523.79" width="1" height="1" fill="#208a20"/>
<path d="M236.07,519.59l3,3l-3,3l-3,-3z" fill="#fff" stroke="#208a20" stroke-width="0.9"/><rect x="235.57" y="522.09" width="1" height="1" fill="#208a20"/>
<path d="M242.36,517.89l3,3l-3,3l-3,-3z" fill="#fff" stroke="#208a20" stroke-width="0.9"/><rect x="241.86" y="520.39" width="1" height="1" fill="#208a20"/>
<path d="M248.66,516.2l3,3l-3,3l-3,-3z" fill="#fff" stroke="#208a20" stroke-width="0.9"/><rect x="248.16" y="518.7" width="1" height="1" fill="#208a20"/>
<path d="M254.95,514.5l3,3l-3,3l-3,-3z" fill="#fff" stroke="#208a20" stroke-width="0.9"/><rect x="254.45" y="517" width="1" height="1" fill="#208a20"/>
<path d="M261.25,512.8l3,3l-3,3l-3,-3z" fill="#fff" stroke="#208a20" stroke-width="0.9"/><rect x="260.75" y="515.3" width="1" height="1" fill="#208a20"/>
<path d="M267.55,511.1l3,3l-3,3l-3,-3z" fill="#fff" stroke="#208a20" stroke-width="0.9"/><rect x="267.05" y="513.6" width="1" height="1" fill="#208a20"/>
<path d="M273.84,509.41l3,3l-3,3l-3,-3z" fill="#fff" stroke="#208a20" stroke-width="0.9"/><rect x="273.34" y="511.91" width="1" height="1" fill="#208a20"/>
<path d="M280.14,507.71l3,3l-3,3l-3,-3z" fill="#fff" stroke="#208a20" stroke-width="0.9"/><rect x="279.64" y="510.21" width="1" height="1" fill="#208a20"/>
<path d="M286.43,506.01l3,3l-3,3l-3,-3z" fill="#fff" stroke="#208a20" stroke-width="0.9"/><rect x="285.93" y="508.51" width="1" height="1" fill="#208a20"/>
<path d="M292.73,504.32l3,3l-3,3l-3,-3z" fill="#fff" stroke="#208a20" stroke-width="0.9"/><rect x="292.23" y="506.82" width="1" height="1" fill="#208a20"/>
<path d="M299.02,502.62l3,3l-3,3l-3,-3z" fill="#fff" stroke="#208a20" stroke-width="0.9"/><rect x="298.52" y="505.12" width="1" height="1" fill="#208a20"/>
<path d="M305.32,500.92l3,3l-3,3l-3,-3z" fill="#fff" stroke="#208a20" stroke-width="0.9"/><rect x="304.82" y="503.42" width="1" height="1" fill="#208a20"/>
<path d="M311.61,499.22l3,3l-3,3l-3,-3z" fill="#fff" stroke="#208a20" stroke-width="0.9"/><rect x="311.11" y="501.72" width="1" height="1" fill="#208a20"/>
<path d="M317.91,497.53l3,3l-3,3l-3,-3z" fill="#fff" stroke="#208a20" stroke-width="0.9"/><rect x="317.41" y="500.03" width="1" height="1" fill="#208a20"/>
<line x1="66.09" y1="568.42" x2="317.91" y2="513.78" stroke="#a49636" stroke-width="1.3"/>
<polygon points="66.09,565.72 68.94,567.8 67.85,571.15 64.33,571.15 63.24,567.8" fill="#fff" stroke="#a49636" stroke-width="0.9"/><rect x="65.59" y="567.92" width="1" height="1" fill="#a49636"/>
<polygon points="72.39,564.34 75.24,566.41 74.15,569.77 70.62,569.77 69.53,566.41" fill="#fff" stroke="#a49636" stroke-width="0.9"/><rect x="71.89" y="566.54" width="1" height="1" fill="#a49636"/>
<polygon points="78.68,562.96 81.53,565.03 80.45,568.38 76.92,568.38 75.83,565.03" fill="#fff" stroke="#a49636" stroke-width="0.9"/><rect x="78.18" y="565.16" width="1" height="1" fill="#a49636"/>
<polygon points="84.98,561.57 87.83,563.65 86.74,567 83.21,567 82.12,563.65" fill="#fff" stroke="#a49636" stroke-width="0.9"/><rect x="84.48" y="563.77" width="1" height="1" fill="#a49636"/>
<polygon points="91.27,560.19 94.13,562.26 93.04,565.62 89.51,565.62 88.42,562.26" fill="#fff" stroke="#a49636" stroke-width="0.9"/><rect x="90.77" y="562.39" width="1" height="1" fill="#a49636"/>
<polygon points="97.57,558.81 100.42,560.88 99.33,564.23 95.8,564.23 94.72,560.88" fill="#fff" stroke="#a49636" stroke-width="0.9"/><rect x="97.07" y="561.01" width="1" height="1" fill="#a49636"/>
<polygon points="103.86,557.42 106.72,559.5 105.63,562.85 102.1,562.85 101.01,559.5" fill="#fff" stroke="#a49636" stroke-width="0.9"/><rect x="103.36" y="559.62" width="1" height="1" fill="#a49636"/>
<polygon points="110.16,556.04 113.01,558.11 111.92,561.47 108.4,561.47 107.31,558.11" fill="#fff" stroke="#a49636" stroke-width="0.9"/><rect x="109.66" y="558.24" width="1" height="1" fill="#a49636"/>
<polygon points="116.45,554.66 119.31,556.73 118.22,560.08 114.69,560.08 113.6,556.73" fill="#fff" stroke="#a49636" stroke-width="0.9"/><rect x="115.95" y="556.86" width="1" height="1" fill="#a49636"/>
<polygon points="122.75,553.27 125.6,555.35 124.51,558.7 120.99,558.7 119.9,555.35" fill="#fff" stroke="#a49636" stroke-width="0.9"/><rect x="122.25" y="555.47" width="1" height="1" fill="#a49636"/>
<polygon points="129.05,551.89 131.9,553.96 130.81,557.32 127.28,557.32 126.19,553.96" fill="#fff" stroke="#a49636" stroke-width="0.9"/><rect x="128.55" y="554.09" width="1" height="1" fill="#a49636"/>
<polygon points="135.34,550.51 138.19,552.58 137.1,555.93 133.58,555.93 132.49,552.58" fill="#fff" stroke="#a49636" stroke-width="0.9"/><rect x="134.84" y="552.71" width="1" height="1" fill="#a49636"/>
<polygon points="141.64,549.12 144.49,551.2 143.4,554.55 139.87,554.55 138.78,551.2" fill="#fff" stroke="#a49636" stroke-width="0.9"/><rect x="141.14" y="551.32" width="1" height="1" fill="#a49636"/>
<polygon points="147.93,547.74 150.78,549.81 149.7,553.17 146.17,553.17 145.08,549.81" fill="#fff" stroke="#a49636" stroke-width="0.9"/><rect x="147.43" y="549.94" width="1" height="1" fill="#a49636"/>
<polygon points="154.23,546.36 157.08,548.43 155.99,551.78 152.46,551.78 151.37,548.43" fill="#fff" stroke="#a49636" stroke-width="0.9"/><rect x="153.73" y="548.56" width="1" height="1" fill="#a49636"/>
<polygon points="160.52,544.97 163.38,547.05 162.29,550.4 158.76,550.4 157.67,547.05" fill="#fff" stroke="#a49636" stroke-width="0.9"/><rect x="160.02" y="547.17" width="1" height="1" fill="#a49636"/>
<polygon points="166.82,543.59 169.67,545.66 168.58,549.02 165.05,549.02 163.97,545.66" fill="#fff" stroke="#a49636" stroke-width="0.9"/><rect x="166.32" y="545.79" width="1" height="1" fill="#a49636"/>
<polygon points="173.11,542.21 175.97,544.28 174.88,547.64 171.35,547.64 170.26,544.28" fill="#fff" stroke="#a49636" stroke-width="0.9"/><rect x="172.61" y="544.41" width="1" height="1" fill="#a49636"/>
<polygon points="179.41,540.82 182.26,542.9 181.17,546.25 177.65,546.25 176.56,542.9" fill="#fff" stroke="#a49636" stroke-width="0.9"/><rect x="178.91" y="543.02" width="1" height="1" fill="#a49636"/>
<polygon points="185.7,539.44 188.56,541.51 187.47,544.87 183.94,544.87 182.85,541.51" fill="#fff" stroke="#a49636" stroke-width="0.9"/><rect x="185.2" y="541.64" width="1" height="1" fill="#a49636"/>
<polygon points="192,538.06 194.85,540.13 193.76,543.49 190.24,543.49 189.15,540.13" fill="#fff" stroke="#a49636" stroke-width="0.9"/><rect x="191.5" y="540.26" width="1" height="1" fill="#a49636"/>
<polygon points="198.3,536.68 201.15,538.75 200.06,542.1 196.53,542.1 195.44,538.75" fill="#fff" stroke="#a49636" stroke-width="0.9"/><rect x="197.8" y="538.88" width="1" height="1" fill="#a49636"/>
<polygon points="204.59,535.29 207.44,537.36 206.35,540.72 202.83,540.72 201.74,537.36" fill="#fff" stroke="#a49636" stroke-width="0.9"/><rect x="204.09" y="537.49" width="1" height="1" fill="#a49636"/>
<polygon points="210.89,533.91 213.74,535.98 212.65,539.34 209.12,539.34 208.03,535.98" fill="#fff" stroke="#a49636" stroke-width="0.9"/><rect x="210.39" y="536.11" width="1" height="1" fill="#a49636"/>
<polygon points="217.18,532.53 220.03,534.6 218.95,537.95 215.42,537.95 214.33,534.6" fill="#fff" stroke="#a49636" stroke-width="0.9"/><rect x="216.68" y="534.73" width="1" height="1" fill="#a49636"/>
<polygon points="223.48,531.14 226.33,533.22 225.24,536.57 221.71,536.57 220.62,533.22" fill="#fff" stroke="#a49636" stroke-width="0.9"/><rect x="222.98" y="533.34" width="1" height="1" fill="#a49636"/>
<polygon points="229.77,529.76 232.63,531.83 231.54,535.19 228.01,535.19 226.92,531.83" fill="#fff" stroke="#a49636" stroke-width="0.9"/><rect x="229.27" y="531.96" width="1" height="1" fill="#a49636"/>
<polygon points="236.07,528.38 238.92,530.45 237.83,533.8 234.3,533.8 233.22,530.45" fill="#fff" stroke="#a49636" stroke-width="0.9"/><rect x="235.57" y="530.58" width="1" height="1" fill="#a49636"/>
<polygon points="242.36,526.99 245.22,529.07 244.13,532.42 240.6,532.42 239.51,529.07" fill="#fff" stroke="#a49636" stroke-width="0.9"/><rect x="241.86" y="529.19" width="1" height="1" fill="#a49636"/>
<polygon points="248.66,525.61 251.51,527.68 250.42,531.04 246.9,531.04 245.81,527.68" fill="#fff" stroke="#a49636" stroke-width="0.9"/><rect x="248.16" y="527.81" width="1" height="1" fill="#a49636"/>
<polygon points="254.95,524.23 257.81,526.3 256.72,529.65 253.19,529.65 252.1,526.3" fill="#fff" stroke="#a49636" stroke-width="0.9"/><rect x="254.45" y="526.43" width="1" height="1" fill="#a49636"/>
<polygon points="261.25,522.84 264.1,524.92 263.01,528.27 259.49,528.27 258.4,524.92" fill="#fff" stroke="#a49636" stroke-width="0.9"/><rect x="260.75" y="525.04" width="1" height="1" fill="#a49636"/>
<polygon points="267.55,521.46 270.4,523.53 269.31,526.89 265.78,526.89 264.69,523.53" fill="#fff" stroke="#a49636" stroke-width="0.9"/><rect x="267.05" y="523.66" width="1" height="1" fill="#a49636"/>
<polygon points="273.84,520.08 276.69,522.15 275.6,525.5 272.08,525.5 270.99,522.15" fill="#fff" stroke="#a49636" stroke-width="0.9"/><rect x="273.34" y="522.28" width="1" height="1" fill="#a49636"/>
<polygon points="280.14,518.69 282.99,520.77 281.9,524.12 278.37,524.12 277.28,520.77" fill="#fff" stroke="#a49636" stroke-width="0.9"/><rect x="279.64" y="520.89" width="1" height="1" fill="#a49636"/>
<polygon points="286.43,517.31 289.28,519.38 288.2,522.74 284.67,522.74 283.58,519.38" fill="#fff" stroke="#a49636" stroke-width="0.9"/><rect x="285.93" y="519.51" width="1" height="1" fill="#a49636"/>
<polygon points="292.73,515.93 295.58,518 294.49,521.35 290.96,521.35 289.87,518" fill="#fff" stroke="#a49636" stroke-width="0.9"/><rect x="292.23" y="518.13" width="1" height="1" fill="#a49636"/>
<polygon points="299.02,514.54 301.88,516.62 300.79,519.97 297.26,519.97 296.17,516.62" fill="#fff" stroke="#a49636" stroke-width="0.9"/><rect x="298.52" y="516.74" width="1" height="1" fill="#a49636"/>
<polygon points="305.32,513.16 308.17,515.23 307.08,518.59 303.55,518.59 302.47,515.23" fill="#fff" stroke="#a49636" stroke-width="0.9"/><rect x="304.82" y="515.36" width="1" height="1" fill="#a49636"/>
<polygon points="311.61,511.78 314.47,513.85 313.38,517.2 309.85,517.2 308.76,513.85" fill="#fff" stroke="#a49636" stroke-width="0.9"/><rect x="311.11" y="513.98" width="1" height="1" fill="#a49636"/>
<polygon points="317.91,510.39 320.76,512.47 319.67,515.82 316.15,515.82 315.06,512.47" fill="#fff" stroke="#a49636" stroke-width="0.9"/><rect x="317.41" y="512.59" width="1" height="1" fill="#a49636"/>
<path d="M53.5,585.5h2.3M330.5,585.5h-2.3M53.5,568.42h4.5M330.5,568.42h-4.5M53.5,551.35h2.3M330.5,551.35h-2.3M53.5,534.27h4.5M330.5,534.27h-4.5M53.5,517.19h2.3M330.5,517.19h-2.3M53.5,500.12h4.5M330.5,500.12h-4.5M53.5,483.04h2.3M330.5,483.04h-2.3M53.5,465.96h4.5M330.5,465.96h-4.5M53.5,448.88h2.3M330.5,448.88h-2.3M53.5,431.81h4.5M330.5,431.81h-4.5M53.5,414.73h2.3M330.5,414.73h-2.3M53.5,397.65h4.5M330.5,397.65h-4.5M53.5,380.58h2.3M330.5,380.58h-2.3M53.5,363.5h4.5M330.5,363.5h-4.5M66.09,363.5v4.5M66.09,585.5v-4.5M97.57,363.5v2.3M97.57,585.5v-2.3M129.05,363.5v4.5M129.05,585.5v-4.5M160.52,363.5v2.3M160.52,585.5v-2.3M192,363.5v4.5M192,585.5v-4.5M223.48,363.5v2.3M223.48,585.5v-2.3M254.95,363.5v4.5M254.95,585.5v-4.5M286.43,363.5v2.3M286.43,585.5v-2.3M317.91,363.5v4.5M317.91,585.5v-4.5" stroke="#222" stroke-width="1" fill="none"/>
<path d="M53.5,363.5H330.5V585.5H53.5Z" stroke="#222" stroke-width="1.05" fill="none"/>
<text x="47.5" y="574.02" font-size="16.5" text-anchor="end">0</text>
<text x="47.5" y="539.87" font-size="16.5" text-anchor="end">5</text>
<text x="47.5" y="505.72" font-size="16.5" text-anchor="end">10</text>
<text x="47.5" y="471.56" font-size="16.5" text-anchor="end">15</text>
<text x="47.5" y="437.41" font-size="16.5" text-anchor="end">20</text>
<text x="47.5" y="403.25" font-size="16.5" text-anchor="end">25</text>
<text x="47.5" y="369.1" font-size="16.5" text-anchor="end">30</text>
<text x="336.5" y="574.02" font-size="16.5">0</text>
<text x="336.5" y="539.87" font-size="16.5">2</text>
<text x="336.5" y="505.72" font-size="16.5">5</text>
<text x="336.5" y="471.56" font-size="16.5">7</text>
<text x="336.5" y="437.41" font-size="16.5">10</text>
<text x="336.5" y="403.25" font-size="16.5">12</text>
<text x="336.5" y="369.1" font-size="16.5">15</text>
<text x="66.09" y="603" font-size="16.5" text-anchor="middle">0</text>
<text x="129.05" y="603" font-size="16.5" text-anchor="middle">5</text>
<text x="192" y="603" font-size="16.5" text-anchor="middle">10</text>
<text x="254.95" y="603" font-size="16.5" text-anchor="middle">15</text>
<text x="317.91" y="603" font-size="16.5" text-anchor="middle">20</text>
<text transform="translate(18.7,465.5) rotate(-90)" font-size="16.5" text-anchor="middle"><tspan font-style="italic">G</tspan> (mT/m)</text>
<text transform="translate(372,464.4) rotate(-90)" font-size="16.5" text-anchor="middle"><tspan font-style="italic">V</tspan><tspan font-size="10" dy="3.5">G</tspan><tspan dy="-3.5"> (mV)</tspan></text>
<text x="191" y="624" font-size="16.5" text-anchor="middle"><tspan font-style="italic">I</tspan> (A)</text>
<text x="193.5" y="658" font-size="21" text-anchor="middle">(<tspan font-weight="bold">b</tspan>)</text>
<line x1="287.8" y1="386" x2="287.5" y2="442" stroke="#111" stroke-width="1.1" stroke-dasharray="1.2,1"/><path d="M282.37,434.01L287.5,442L292.72,434.06" fill="none" stroke="#111" stroke-width="1.2"/>
<line x1="287.8" y1="386" x2="298.5" y2="402.5" stroke="#111" stroke-width="1.1" stroke-dasharray="1.2,1"/><path d="M289.82,398.63L298.5,402.5L298.51,393" fill="none" stroke="#111" stroke-width="1.2"/>
<line x1="212.6" y1="451.6" x2="212.6" y2="506.7" stroke="#2a2abc" stroke-width="1.1" stroke-dasharray="1.2,1"/><path d="M207.43,498.73L212.6,506.7L217.77,498.73" fill="none" stroke="#2a2abc" stroke-width="1.2"/>
<line x1="212.6" y1="451.6" x2="240.1" y2="485.8" stroke="#2a2abc" stroke-width="1.1" stroke-dasharray="1.2,1"/><path d="M231.08,482.83L240.1,485.8L239.14,476.35" fill="none" stroke="#2a2abc" stroke-width="1.2"/>
<line x1="156.3" y1="487.7" x2="179" y2="528.2" stroke="#e23030" stroke-width="1.1" stroke-dasharray="1.2,1"/><path d="M170.59,523.78L179,528.2L179.62,518.72" fill="none" stroke="#e23030" stroke-width="1.2"/>
<line x1="276.8" y1="539.4" x2="276.8" y2="514" stroke="#1a6e1a" stroke-width="1.1" stroke-dasharray="1.2,1"/><path d="M281.97,521.97L276.8,514L271.63,521.97" fill="none" stroke="#1a6e1a" stroke-width="1.2"/>
<line x1="205.3" y1="557.5" x2="205.3" y2="540.3" stroke="#8a6e26" stroke-width="1.1" stroke-dasharray="1.2,1"/><path d="M210.47,548.27L205.3,540.3L200.13,548.27" fill="none" stroke="#8a6e26" stroke-width="1.2"/>
<polyline points="478.43,430.09 497.86,458.96 517.29,481.91 536.71,499.89 556.14,514.24 575.57,527.81 595,538.33 614.43,546.94 633.86,554.4 653.29,561.28 672.71,566.64 692.14,571.61 711.57,575.63" fill="none" stroke="#111" stroke-width="1.3"/>
<path d="M478.43,377.52v7.2 M474.83,381.12h7.2 M475.43,378.12l6,6 M475.43,384.12l6,-6 M497.86,421.7v7.2 M494.26,425.3h7.2 M494.86,422.3l6,6 M494.86,428.3l6,-6 M517.29,465.12v7.2 M513.69,468.72h7.2 M514.29,465.72l6,6 M514.29,471.72l6,-6 M536.71,489.02v7.2 M533.11,492.62h7.2 M533.71,489.62l6,6 M533.71,495.62l6,-6 M556.14,506.04v7.2 M552.54,509.64h7.2 M553.14,506.64l6,6 M553.14,512.64l6,-6 M575.57,517.71v7.2 M571.97,521.31h7.2 M572.57,518.31l6,6 M572.57,524.31l6,-6 M595,531.29v7.2 M591.4,534.89h7.2 M592,531.89l6,6 M592,537.89l6,-6 M614.43,539.71v7.2 M610.83,543.31h7.2 M611.43,540.31l6,6 M611.43,546.31l6,-6 M633.86,548.88v7.2 M630.26,552.49h7.2 M630.86,549.49l6,6 M630.86,555.49l6,-6 M653.29,555.77v7.2 M649.69,559.37h7.2 M650.29,556.37l6,6 M650.29,562.37l6,-6 M672.71,560.74v7.2 M669.11,564.34h7.2 M669.71,561.34l6,6 M669.71,567.34l6,-6 M692.14,567.44v7.2 M688.54,571.04h7.2 M689.14,568.04l6,6 M689.14,574.04l6,-6 M711.57,571.45v7.2 M707.97,575.05h7.2 M708.57,572.05l6,6 M708.57,578.05l6,-6" stroke="#ea1a1a" stroke-width="1.15" fill="none"/>
<path d="M459,591.5h4.5M731,591.5h-4.5M459,572.38h2.5M731,572.38h-2.5M459,553.25h4.5M731,553.25h-4.5M459,534.12h2.5M731,534.12h-2.5M459,515h4.5M731,515h-4.5M459,495.88h2.5M731,495.88h-2.5M459,476.75h4.5M731,476.75h-4.5M459,457.62h2.5M731,457.62h-2.5M459,438.5h4.5M731,438.5h-4.5M459,419.38h2.5M731,419.38h-2.5M459,400.25h4.5M731,400.25h-4.5M459,381.12h2.5M731,381.12h-2.5M459,362h4.5M731,362h-4.5M478.43,362v4.5M478.43,591.5v-4.5M497.86,362v2.5M497.86,591.5v-2.5M517.29,362v4.5M517.29,591.5v-4.5M536.71,362v2.5M536.71,591.5v-2.5M556.14,362v4.5M556.14,591.5v-4.5M575.57,362v2.5M575.57,591.5v-2.5M595,362v4.5M595,591.5v-4.5M614.43,362v2.5M614.43,591.5v-2.5M633.86,362v4.5M633.86,591.5v-4.5M653.29,362v2.5M653.29,591.5v-2.5M672.71,362v4.5M672.71,591.5v-4.5M692.14,362v2.5M692.14,591.5v-2.5M711.57,362v4.5M711.57,591.5v-4.5" stroke="#222" stroke-width="1" fill="none"/>
<path d="M459,362H731V591.5H459Z" stroke="#222" stroke-width="1.05" fill="none"/>
<text x="453.5" y="597.1" font-size="16.5" text-anchor="end">2</text>
<text x="453.5" y="558.85" font-size="16.5" text-anchor="end">4</text>
<text x="453.5" y="520.6" font-size="16.5" text-anchor="end">6</text>
<text x="453.5" y="482.35" font-size="16.5" text-anchor="end">8</text>
<text x="453.5" y="444.1" font-size="16.5" text-anchor="end">10</text>
<text x="453.5" y="405.85" font-size="16.5" text-anchor="end">12</text>
<text x="453.5" y="367.6" font-size="16.5" text-anchor="end">14</text>
<text x="736.5" y="597.1" font-size="16.5">0.1</text>
<text x="736.5" y="558.85" font-size="16.5">0.2</text>
<text x="736.5" y="520.6" font-size="16.5">0.3</text>
<text x="736.5" y="482.35" font-size="16.5">0.4</text>
<text x="736.5" y="444.1" font-size="16.5">0.5</text>
<text x="736.5" y="405.85" font-size="16.5">0.6</text>
<text x="736.5" y="367.6" font-size="16.5">0.7</text>
<text x="478.43" y="609.6" font-size="16.5" text-anchor="middle">8</text>
<text x="517.29" y="609.6" font-size="16.5" text-anchor="middle">10</text>
<text x="556.14" y="609.6" font-size="16.5" text-anchor="middle">12</text>
<text x="595" y="609.6" font-size="16.5" text-anchor="middle">14</text>
<text x="633.86" y="609.6" font-size="16.5" text-anchor="middle">16</text>
<text x="672.71" y="609.6" font-size="16.5" text-anchor="middle">18</text>
<text x="711.57" y="609.6" font-size="16.5" text-anchor="middle">20</text>
<text transform="translate(425.5,468) rotate(-90)" font-size="16.5" text-anchor="middle"><tspan font-style="italic">G</tspan> (mT/m)</text>
<text transform="translate(775.4,469) rotate(-90)" font-size="16.7" text-anchor="middle"><tspan font-style="italic">S</tspan><tspan font-style="italic" font-size="10.5" dy="5.5">I</tspan><tspan dy="-5.5"> (mV/A)</tspan></text>
<text x="597.3" y="630.5" font-size="16.5" text-anchor="middle"><tspan font-style="italic">R</tspan> (mm)</text>
<text x="596.5" y="658" font-size="21" text-anchor="middle">(<tspan font-weight="bold">c</tspan>)</text>
</g>
</svg>
</body></html>
